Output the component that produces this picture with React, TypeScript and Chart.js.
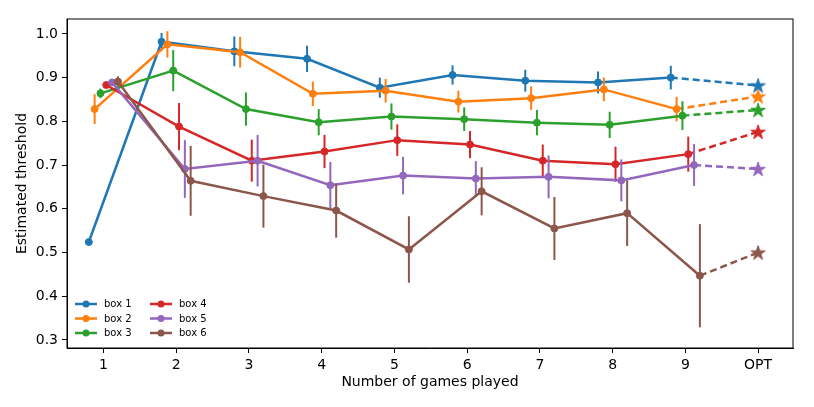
import React, { useEffect, useRef } from "react";
import { Chart, registerables } from "chart.js";

Chart.register(...registerables);

const categories = ["1", "2", "3", "4", "5", "6", "7", "8", "9", "OPT"];
const seriesNames = ["box 1", "box 2", "box 3", "box 4", "box 5", "box 6"];
const colors = ["#1f77b4", "#ff7f0e", "#2ca02c", "#d62728", "#9467bd", "#8c564b"];
const dodge = [-0.2, -0.12, -0.04, 0.04, 0.12, 0.2];

const box1 = [0.524, 0.982, 0.96, 0.943, 0.877, 0.906, 0.893, 0.889, 0.9];
const box2 = [0.828, 0.976, 0.958, 0.863, 0.87, 0.845, 0.853, 0.873, 0.828];
const box3 = [0.864, 0.916, 0.828, 0.798, 0.811, 0.805, 0.797, 0.792, 0.813];
const box4 = [0.883, 0.788, 0.71, 0.731, 0.757, 0.747, 0.71, 0.702, 0.725];
const box5 = [0.889, 0.691, 0.71, 0.654, 0.676, 0.669, 0.673, 0.665, 0.7];
const box6 = [0.891, 0.664, 0.629, 0.596, 0.507, 0.64, 0.555, 0.59, 0.447];

const box1Err = [0.005, 0.02, 0.034, 0.03, 0.023, 0.022, 0.025, 0.025, 0.027];
const box2Err = [0.034, 0.03, 0.035, 0.028, 0.027, 0.025, 0.027, 0.027, 0.028];
const box3Err = [0.011, 0.047, 0.038, 0.03, 0.03, 0.027, 0.029, 0.03, 0.033];
const box4Err = [0.005, 0.054, 0.048, 0.038, 0.036, 0.031, 0.037, 0.04, 0.04];
const box5Err = [0.007, 0.066, 0.059, 0.053, 0.043, 0.04, 0.049, 0.048, 0.048];
const box6Err = [0.012, 0.08, 0.072, 0.062, 0.076, 0.055, 0.072, 0.075, 0.118];

const optValues = [0.882, 0.857, 0.826, 0.776, 0.691, 0.5];

const yTicks = [0.3, 0.4, 0.5, 0.6, 0.7, 0.8, 0.9, 1.0];

const seriesValues = [box1, box2, box3, box4, box5, box6];
const seriesErrors = [box1Err, box2Err, box3Err, box4Err, box5Err, box6Err];

const FONT = "'DejaVu Sans', sans-serif";

function makeStar(color: string): HTMLCanvasElement {
  const size = 18;
  const c = document.createElement("canvas");
  c.width = size;
  c.height = size;
  const ctx = c.getContext("2d")!;
  const cx = size / 2;
  const cy = size / 2 + 0.6;
  const outer = 7.6;
  const inner = outer * 0.382;
  ctx.beginPath();
  for (let k = 0; k < 10; k++) {
    const r = k % 2 === 0 ? outer : inner;
    const a = -Math.PI / 2 + (k * Math.PI) / 5;
    const px = cx + r * Math.cos(a);
    const py = cy + r * Math.sin(a);
    if (k === 0) ctx.moveTo(px, py);
    else ctx.lineTo(px, py);
  }
  ctx.closePath();
  ctx.fillStyle = color;
  ctx.strokeStyle = color;
  ctx.lineWidth = 1;
  ctx.lineJoin = "miter";
  ctx.fill();
  ctx.stroke();
  return c;
}

const errorBarPlugin = {
  id: "errorBars",
  beforeDatasetDraw(chart: any, args: any) {
    const ds = chart.data.datasets[args.index];
    if (!ds.errors) return;
    const xs = chart.scales.x;
    const ys = chart.scales.y;
    const ctx = chart.ctx;
    ctx.save();
    ctx.strokeStyle = ds.borderColor;
    ctx.lineWidth = 2;
    ds.data.forEach((p: any, i: number) => {
      const e = ds.errors[i];
      const px = xs.getPixelForValue(p.x);
      ctx.beginPath();
      ctx.moveTo(px, ys.getPixelForValue(p.y - e));
      ctx.lineTo(px, ys.getPixelForValue(p.y + e));
      ctx.stroke();
    });
    ctx.restore();
  },
};

const framePlugin = {
  id: "frame",
  afterDatasetsDraw(chart: any) {
    const { ctx, chartArea } = chart;
    ctx.save();
    ctx.strokeStyle = "#000";
    ctx.lineWidth = 1;
    ctx.strokeRect(chartArea.left, chartArea.top, chartArea.right - chartArea.left, chartArea.bottom - chartArea.top);
    ctx.restore();
  },
};

const legendPlugin = {
  id: "customLegend",
  afterDraw(chart: any) {
    const ctx = chart.ctx;
    const area = chart.chartArea;
    const x0 = area.left + 8;
    const y0 = area.bottom - 44;
    const colW = 75;
    const rowH = 14.5;
    ctx.save();
    ctx.font = `10px ${FONT}`;
    ctx.textBaseline = "middle";
    ctx.textAlign = "left";
    seriesNames.forEach((name, i) => {
      const col = Math.floor(i / 3);
      const row = i % 3;
      const lx = x0 + col * colW;
      const ly = y0 + row * rowH;
      ctx.strokeStyle = colors[i];
      ctx.lineWidth = 2.5;
      ctx.beginPath();
      ctx.moveTo(lx, ly);
      ctx.lineTo(lx + 22, ly);
      ctx.stroke();
      ctx.fillStyle = colors[i];
      ctx.beginPath();
      ctx.arc(lx + 11, ly, 3.5, 0, Math.PI * 2);
      ctx.fill();
      ctx.fillStyle = "#000";
      ctx.fillText(name, lx + 29, ly + 0.5);
    });
    ctx.restore();
  },
};

export default function App() {
  const ref = useRef<HTMLCanvasElement | null>(null);

  useEffect(() => {
    if (!ref.current) return;
    const datasets: any[] = [];
    seriesNames.forEach((name, s) => {
      const pts = seriesValues[s].map((v, i) => ({ x: i + 1 + dodge[s], y: v }));
      datasets.push({
        label: name,
        data: pts,
        errors: seriesErrors[s],
        borderColor: colors[s],
        backgroundColor: colors[s],
        pointBackgroundColor: colors[s],
        pointBorderColor: colors[s],
        borderWidth: 2.5,
        pointRadius: 3.5,
        pointBorderWidth: 1,
        tension: 0,
        fill: false,
        order: 6 - s,
      });
      const last = seriesValues[s].length - 1;
      datasets.push({
        label: name + " OPT",
        data: [
          { x: last + 1 + dodge[s], y: seriesValues[s][last] },
          { x: categories.length, y: optValues[s] },
        ],
        borderColor: colors[s],
        backgroundColor: colors[s],
        borderWidth: 2.5,
        borderDash: [7, 4],
        pointRadius: [0, 8],
        pointStyle: ["circle", makeStar(colors[s])],
        tension: 0,
        fill: false,
        order: 6 - s,
      });
    });

    const font = { family: FONT, size: 14 };

    const chart = new Chart(ref.current, {
      type: "line",
      data: { datasets },
      plugins: [errorBarPlugin, framePlugin, legendPlugin],
      options: {
        animation: false,
        responsive: false,
        maintainAspectRatio: false,
        events: [],
        layout: { padding: { top: 19, right: 21, left: 0, bottom: 0 } },
        plugins: {
          legend: { display: false },
          tooltip: { enabled: false },
        },
        scales: {
          x: {
            type: "linear",
            min: 0.5,
            max: 10.48,
            afterBuildTicks: (s: any) => {
              s.ticks = categories.map((_, i) => ({ value: i + 1 }));
            },
            afterFit: (s: any) => {
              s.height = 59;
            },
            ticks: {
              callback: (v: any) => categories[Math.round(Number(v)) - 1] ?? "",
              font,
              color: "#000",
              padding: 4,
              maxRotation: 0,
              autoSkip: false,
            },
            grid: { drawOnChartArea: false, drawTicks: true, tickLength: 5, color: "#000", tickColor: "#000" },
            border: { display: true, color: "#000", width: 1 },
            title: {
              display: true,
              text: "Number of games played",
              font,
              color: "#000",
              padding: { top: 0, bottom: 16.6 },
            },
          },
          y: {
            type: "linear",
            min: 0.2817,
            max: 1.034,
            afterBuildTicks: (s: any) => {
              s.ticks = yTicks.map((v) => ({ value: v }));
            },
            afterFit: (s: any) => {
              s.width = 67;
            },
            ticks: {
              callback: (v: any) => Number(v).toFixed(1),
              font,
              color: "#000",
              padding: 4,
              autoSkip: false,
            },
            grid: { drawOnChartArea: false, drawTicks: true, tickLength: 5, color: "#000", tickColor: "#000" },
            border: { display: true, color: "#000", width: 1 },
            title: {
              display: true,
              text: "Estimated threshold",
              font,
              color: "#000",
              padding: { top: 13.6, bottom: 0 },
            },
          },
        },
      } as any,
    });
    return () => chart.destroy();
  }, []);

  return (
    <div style={{ position: "fixed", left: 0, top: 0, width: 814, height: 407, background: "#fff" }}>
      <canvas ref={ref} width={814} height={407} style={{ width: 814, height: 407, display: "block" }} />
    </div>
  );
}
